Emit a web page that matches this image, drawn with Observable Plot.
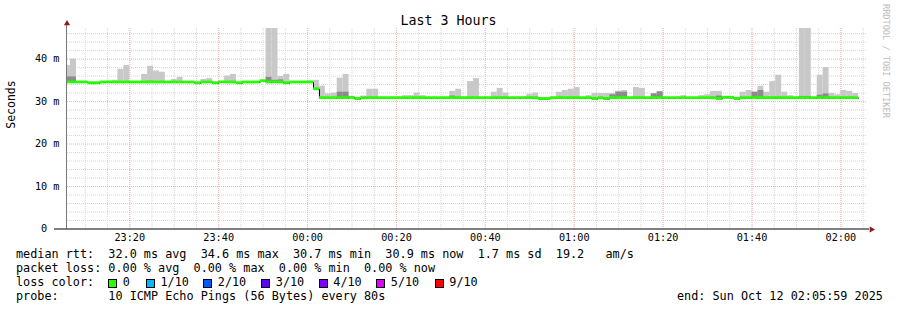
<!DOCTYPE html>
<html><head><meta charset="utf-8">
<script src="https://cdn.jsdelivr.net/npm/d3@7"></script>
<script src="https://cdn.jsdelivr.net/npm/@observablehq/plot@0.6"></script>
<style>
body{margin:0;background:#fff;}
#wrap{position:relative;width:897px;height:310px;overflow:hidden;font-family:"DejaVu Sans Mono",monospace;background:#fff;}
#wrap svg{position:absolute;left:0;top:0;}
.t{position:absolute;white-space:pre;font-size:11.8px;line-height:14px;color:#000;}
.box{position:absolute;width:7px;height:7px;border:1px solid #000;}
.wm{position:absolute;left:881px;top:4px;writing-mode:vertical-rl;font-size:8.6px;color:#bdbdbd;white-space:pre;letter-spacing:0px;}
</style></head>
<body><div id="wrap"></div>
<script>
// ---- data ----
const title = "Last 3 Hours";
const rangeStart = "2025-10-11T23:05:59Z";
const rangeEnd = "2025-10-12T02:05:59Z";
const firstStepStart = "2025-10-11T23:05:20Z";
const stepSeconds = 80;
const yMax = 47.2;
const yTicks = [0, 10, 20, 30, 40];

const median = [
 34.5,34.5,34.5,34.5,34.3,34.3,34.5,34.5,34.5,34.5,
 34.5,34.5,34.5,34.5,34.5,34.5,34.5,34.5,34.5,34.5,
 34.5,34.5,34.3,34.5,34.5,34.3,34.5,34.5,34.5,34.3,
 34.5,34.5,34.5,34.8,34.5,34.5,34.5,34.3,34.5,34.5,
 34.5,34.5,32.9,30.8,30.8,30.8,30.8,30.8,30.9,30.6,
 30.8,30.8,30.8,30.8,30.8,30.8,30.8,30.8,30.8,30.8,
 30.8,30.8,30.8,30.8,30.8,30.8,30.8,30.8,30.8,30.8,
 30.8,30.8,30.8,30.8,30.8,30.8,30.8,30.8,30.8,30.8,
 30.6,30.6,30.8,30.8,30.8,30.8,30.8,30.8,30.8,30.6,
 30.8,30.6,30.8,30.8,30.8,30.8,30.8,30.8,30.8,30.8,
 30.8,30.8,30.8,30.8,30.8,30.8,30.8,30.8,30.8,30.8,
 30.6,30.9,30.9,30.6,30.8,30.8,30.8,30.8,30.8,30.8,
 30.8,30.8,30.8,30.8,30.8,30.8,30.8,30.8,30.8,30.8,
 30.8,30.8,30.8,30.8
];
const maxRtt = [
 38.5,40.0,34.7,34.7,34.6,34.6,34.7,34.8,35.0,37.6,
 38.5,34.7,34.7,36.4,38.3,37.2,36.9,34.7,35.2,35.7,
 34.7,34.7,34.6,35.2,35.4,34.6,34.7,36.0,36.4,34.6,
 34.7,34.7,34.7,35.0,47.2,47.2,35.9,36.4,34.7,34.7,
 34.7,34.8,35.0,33.6,31.8,32.0,35.5,36.4,31.0,30.9,
 31.3,32.9,32.9,31.0,31.0,31.0,31.1,31.4,31.4,32.0,
 31.4,31.0,31.0,31.0,31.0,32.4,32.9,31.0,34.7,35.4,
 31.0,31.0,32.2,33.1,32.0,31.0,31.0,31.1,31.7,32.0,
 30.9,30.9,31.0,32.2,32.6,32.9,33.3,31.0,31.4,31.9,
 31.9,31.9,31.9,32.4,32.6,31.0,33.3,33.1,31.0,31.9,
 32.3,31.0,31.0,31.0,31.4,31.0,31.0,31.4,31.6,32.4,
 32.4,31.0,31.0,31.0,32.2,32.6,32.2,33.6,32.2,34.7,
 36.2,32.2,31.4,31.0,47.2,47.2,31.0,36.2,38.0,31.9,
 31.6,32.6,32.4,31.9
];
const innerRtt = [
 35.8,35.8,34.6,34.6,34.4,34.4,34.6,34.6,34.6,34.7,
 34.7,34.6,34.6,34.7,34.8,34.7,34.7,34.6,34.6,34.7,
 34.6,34.6,34.4,34.6,34.6,34.4,34.6,34.7,34.7,34.4,
 34.6,34.6,34.6,34.9,35.7,35.0,35.1,34.5,34.6,34.6,
 34.6,34.6,33.0,31.0,30.9,30.9,32.2,32.2,30.9,30.7,
 30.9,31.0,31.0,30.9,30.9,30.9,30.9,30.9,30.9,31.0,
 30.9,30.9,30.9,30.9,30.9,31.3,31.0,30.9,31.0,31.0,
 30.9,30.9,31.0,31.0,31.0,30.9,30.9,30.9,31.0,31.0,
 30.7,30.7,30.9,31.0,31.0,31.0,31.0,30.9,30.9,30.9,
 30.9,30.9,31.6,32.2,32.2,30.9,31.0,31.0,30.9,31.8,
 32.3,30.9,30.9,30.9,30.9,30.9,30.9,30.9,30.9,31.0,
 31.3,31.0,31.0,30.7,31.0,31.0,32.2,32.6,31.0,31.0,
 31.0,31.0,30.9,30.9,31.2,31.2,30.9,31.5,31.8,31.0,
 30.9,31.0,31.0,30.9
];

const lossLabels = ["0", "1/10", "2/10", "3/10", "4/10", "5/10", "9/10"];
const lossColors = ["#26ff00", "#00b8ff", "#0059ff", "#5e00ff", "#7e00ff", "#dd00ff", "#ff0000"];
const footerLines = [
 "median rtt:  32.0 ms avg  34.6 ms max  30.7 ms min  30.9 ms now  1.7 ms sd  19.2   am/s",
 "packet loss: 0.00 % avg  0.00 % max  0.00 % min  0.00 % now",
 "loss color:",
 "probe:       10 ICMP Echo Pings (56 Bytes) every 80s"
];
const endLabel = "end: Sun Oct 12 02:05:59 2025";
const watermark = "RRDTOOL / TOBI OETIKER";

// ---- build ----
const t0 = Date.parse(firstStepStart);
const rows = median.map((m, i) => ({
  start: new Date(t0 + i * stepSeconds * 1000),
  end: new Date(t0 + (i + 1) * stepSeconds * 1000),
  median: m, hi: maxRtt[i], inner: innerRtt[i]
}));
const linePts = rows.map(r => ({t: r.start, v: r.median}))
  .concat([{t: rows[rows.length - 1].end, v: median[median.length - 1]}]);

const mono = "DejaVu Sans Mono, monospace";
const fmtY = d => d === 0 ? "0\u00a0\u00a0" : d + " m";
const minorY = d3.range(2, yMax, 2).filter(d => d % 10 !== 0);
const majorY = yTicks.filter(d => d > 0);

const chart = Plot.plot({
  width: 897, height: 310,
  marginLeft: 67, marginRight: 30, marginTop: 28, marginBottom: 81.5,
  style: {background: "transparent", overflow: "visible"},
  x: {type: "utc", domain: [new Date(rangeStart), new Date(rangeEnd)]},
  y: {domain: [0, yMax]},
  marks: [
    Plot.gridX({ticks: d3.utcMinute.every(5), stroke: "#d6d6d6", strokeOpacity: 1, strokeDasharray: "1,1"}),
    Plot.gridY({ticks: minorY, stroke: "#d6d6d6", strokeOpacity: 1, strokeDasharray: "1,1"}),
    Plot.gridX({ticks: d3.utcMinute.every(20), stroke: "#f5b3b3", strokeOpacity: 1, strokeDasharray: "1,1"}),
    Plot.gridY({ticks: majorY, stroke: "#f5b3b3", strokeOpacity: 1, strokeDasharray: "1,1"}),
    Plot.rect(rows, {x1: "start", x2: "end", y1: "median", y2: "hi", fill: "#c8c8c8", clip: true}),
    Plot.rect(rows, {x1: "start", x2: "end", y1: "median", y2: "inner", fill: "#8c8c8c", clip: true}),
    Plot.line(linePts, {x: "t", y: "v", curve: "step-after", stroke: "#000", strokeWidth: 1, clip: true}),
    Plot.rect(rows, {x1: "start", x2: "end", y1: "median", y2: "median", fill: lossColors[0],
      insetTop: -1.4, insetBottom: -1.4, clip: true}),
    Plot.ruleX([new Date(rangeStart)], {stroke: "#777", dx: -1, insetTop: -3}),
    Plot.ruleY([0], {stroke: "#000", insetLeft: -13, insetRight: -2}),
    Plot.dot([0], {frameAnchor: "top-left", dx: -0.5, dy: -5, symbol: "triangle", r: 2.3, fill: "#8a1c1c", stroke: null}),
    Plot.dot([0], {frameAnchor: "bottom-right", dx: 4, dy: 0.5, symbol: "triangle", rotate: 90, r: 2.3, fill: "#8a1c1c", stroke: null}),
    Plot.axisX({ticks: d3.utcMinute.every(20), tickFormat: d3.utcFormat("%H:%M"), tickSize: 0, tickPadding: 5,
      fontSize: 10.2, fontFamily: mono, label: null}),
    Plot.axisY({ticks: yTicks, tickFormat: fmtY, tickSize: 0, tickPadding: 8, fontSize: 10.2, fontFamily: mono, label: null}),
    Plot.text(["Seconds"], {frameAnchor: "left", dx: -56, rotate: -90, fontSize: 11.5, fontFamily: mono, fill: "#000"})
  ]
});

const wrap = document.getElementById("wrap");
wrap.appendChild(chart);

function addText(txt, left, top, cls, extra) {
  const d = document.createElement("div");
  d.className = cls || "t";
  d.textContent = txt;
  d.style.left = left + "px";
  d.style.top = top + "px";
  if (extra) Object.assign(d.style, extra);
  wrap.appendChild(d);
  return d;
}
addText(title, 0, 13.5, "t", {width: "897px", textAlign: "center", fontSize: "13.3px", left: "0px"});
const rowTop = [247, 261, 275, 289];
footerLines.forEach((s, i) => addText(s, 16, rowTop[i]));
const boxLeft = [108, 145.7, 203, 261, 318.5, 376, 434.5];
lossLabels.forEach((lab, i) => {
  const b = document.createElement("div");
  b.className = "box";
  b.style.left = boxLeft[i] + "px";
  b.style.top = "279px";
  b.style.background = lossColors[i];
  wrap.appendChild(b);
  addText(lab, boxLeft[i] + 14.8, rowTop[2]);
});
addText(endLabel, 677, rowTop[3]);
const wm = addText(watermark, 881, 4, "wm");
</script></body></html>
